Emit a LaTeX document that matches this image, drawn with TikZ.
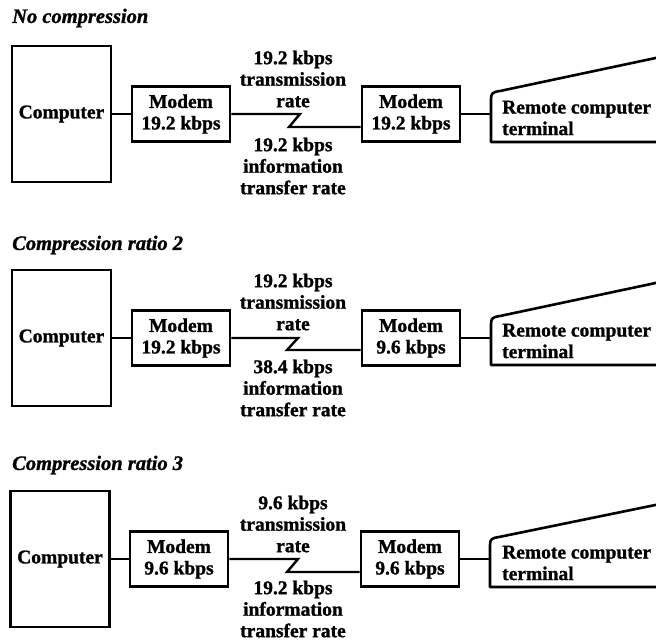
\documentclass[tikz,border=0pt]{standalone}
\usepackage{fontspec}
\setmainfont{Liberation Serif}[BoldFeatures={FakeBold=1.2}, BoldItalicFeatures={FakeBold=1.2}]
\begin{document}
\begin{tikzpicture}[x=1pt,y=-1pt,
  every node/.style={font=\fontsize{19.5}{21.5}\selectfont\bfseries},
  unit/.style={draw, line width=2.6pt, inner sep=0pt, align=center},
  pc/.style={unit, minimum width=99pt, minimum height=136pt},
  modembox/.style={unit, minimum width=98pt, minimum height=55pt},
  wire/.style={line width=2.4pt, line join=miter},
  caption/.style={align=center, inner sep=0pt},
  screentext/.style={anchor=west, align=left, inner sep=0pt},
  heading/.style={anchor=west, inner sep=0pt,
    font=\fontsize{20.5}{22}\selectfont\bfseries\itshape},
  screen/.style={line width=2.6pt, line join=round}]
\useasboundingbox (0,0) rectangle (656,641);

% ---------- row 1: no compression ----------
\begin{scope}[shift={(0,114)}]
  \node[heading] (t1) at (12,-96) {No compression};
  \node[pc] (c1) at (61.5,0) {Computer};
  \node[modembox] (ma1) at (181,0) {Modem\\19.2 kbps};
  \node[modembox] (mb1) at (411,0) {Modem\\19.2 kbps};
  \node[screentext] (r1) at (502,4) {Remote computer\\terminal};
  \coordinate (in1) at (491,0);
  \coordinate (k1a) at (300,0);
  \coordinate (k1b) at (289,13);
  \node[caption] (up1) at (293,-35) {19.2 kbps\\transmission\\rate};
  \node[caption] (dn1) at (293,52) {19.2 kbps\\information\\transfer rate};
  \draw[screen] (665,28) -- (491,28) -- (491,-15)
    .. controls (491,-21) and (493,-22) .. (500,-23) -- (665,-58);
  \draw[wire] (c1) -- (ma1);
  \draw[wire] (ma1.east) -- (k1a) -- (k1b) -- (k1b -| mb1.west);
  \draw[wire] (mb1) -- (in1);
\end{scope}

% ---------- row 2: compression ratio 2 ----------
\begin{scope}[shift={(0,338)}]
  \node[heading] (t2) at (12,-93) {Compression ratio 2};
  \node[pc] (c2) at (61.5,0) {Computer};
  \node[modembox] (ma2) at (181,0) {Modem\\19.2 kbps};
  \node[modembox] (mb2) at (411,0) {Modem\\9.6 kbps};
  \node[screentext] (r2) at (502,3) {Remote computer\\terminal};
  \coordinate (in2) at (491,0);
  \coordinate (k2a) at (298,0);
  \coordinate (k2b) at (287,12);
  \node[caption] (up2) at (293,-36) {19.2 kbps\\transmission\\rate};
  \node[caption] (dn2) at (293,50) {38.4 kbps\\information\\transfer rate};
  \draw[screen] (665,27) -- (491,27) -- (491,-14)
    .. controls (491,-20) and (493,-21) .. (500,-22) -- (665,-57);
  \draw[wire] (c2) -- (ma2);
  \draw[wire] (ma2.east) -- (k2a) -- (k2b) -- (k2b -| mb2.west);
  \draw[wire] (mb2) -- (in2);
\end{scope}

% ---------- row 3: compression ratio 3 ----------
\begin{scope}[shift={(0,559)}]
  \node[heading] (t3) at (12,-94) {Compression ratio 3};
  \node[pc] (c3) at (60,0) {Computer};
  \node[modembox] (ma3) at (179,0) {Modem\\9.6 kbps};
  \node[modembox] (mb3) at (410,0) {Modem\\9.6 kbps};
  \node[screentext] (r3) at (502,4) {Remote computer\\terminal};
  \coordinate (in3) at (490,0);
  \coordinate (k3a) at (298,0);
  \coordinate (k3b) at (287,13);
  \node[caption] (up3) at (293,-35) {9.6 kbps\\transmission\\rate};
  \node[caption] (dn3) at (293,50) {19.2 kbps\\information\\transfer rate};
  \draw[screen] (665,28) -- (490,28) -- (490,-14)
    .. controls (490,-20) and (492,-21) .. (499,-22) -- (665,-56);
  \draw[wire] (c3) -- (ma3);
  \draw[wire] (ma3.east) -- (k3a) -- (k3b) -- (k3b -| mb3.west);
  \draw[wire] (mb3) -- (in3);
\end{scope}
\end{tikzpicture}
\end{document}
